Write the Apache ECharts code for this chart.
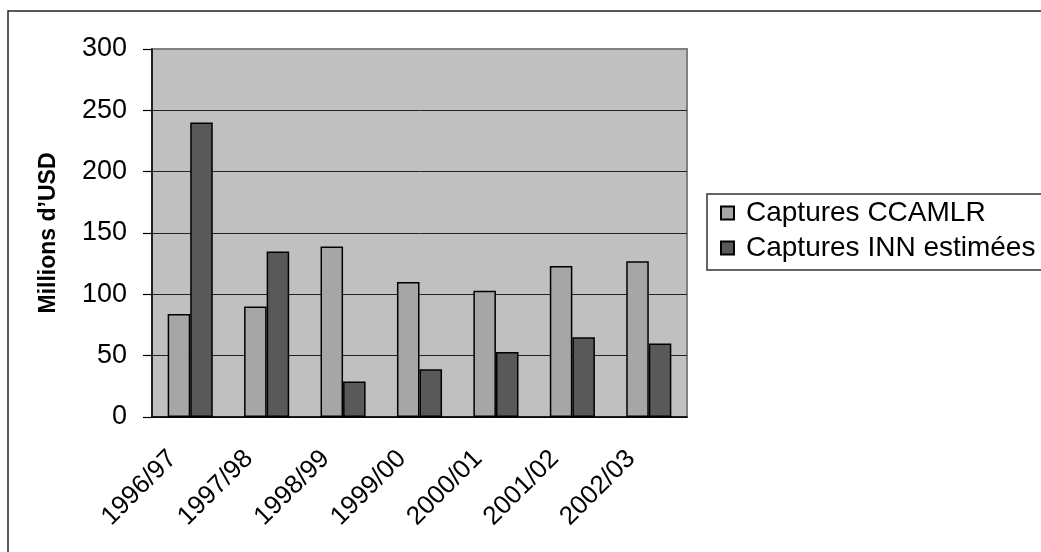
<!DOCTYPE html>
<html lang="fr">

<head>
  <meta charset="UTF-8">
  <title>Captures CCAMLR / INN</title>
  <script src="https://cdn.jsdelivr.net/npm/echarts@6/dist/echarts.min.js"></script>
  <style>
    html, body { margin: 0; padding: 0; background: #fff; }
    #echarts { width: 1041px; height: 552px; }
  </style>
</head>

<body>
  <div id="echarts"></div>
</body>

</html>
<script>
  // saisons
  const seasons = ['1996/97', '1997/98', '1998/99', '1999/00', '2000/01', '2001/02', '2002/03'];
  // valeurs en millions d'USD
  const ccamlr = [84, 90, 139, 110, 103, 123, 127];
  const inn = [240, 135, 29, 39, 53, 65, 60];
  const yTicks = { min: 0, max: 300, interval: 50 };

  const font = 'Liberation Sans, Arial, sans-serif';
  let chart = echarts.init(document.getElementById('echarts'));

  chart.setOption({
    backgroundColor: '#fff',
    textStyle: { fontFamily: font, color: '#000' },
    graphic: [{
      type: 'rect',
      shape: { x: 8, y: 11, width: 1100, height: 600 },
      style: { fill: 'none', stroke: '#222', lineWidth: 1.5 },
      silent: true
    }],
    grid: {
      left: 152, top: 49, right: 354, bottom: 135,
      show: true,
      backgroundColor: '#c0c0c0',
      borderColor: '#808080',
      borderWidth: 2
    },
    legend: {
      left: 707, top: 194,
      orient: 'vertical',
      icon: 'rect',
      itemWidth: 13, itemHeight: 13,
      itemGap: 7,
      padding: [5, 60, 8, 13],
      borderColor: '#333', borderWidth: 1.5,
      textStyle: { fontFamily: font, fontSize: 28, lineHeight: 28, color: '#000', padding: [0, 0, 0, 7] },
      data: ['Captures CCAMLR', 'Captures INN estimées']
    },
    xAxis: {
      type: 'category',
      data: seasons,
      axisLine: { lineStyle: { color: '#000', width: 1.5 } },
      axisTick: { length: 8, lineStyle: { color: '#000', width: 1.2 } },
      axisLabel: { rotate: 45, margin: 20, fontSize: 26, color: '#000', padding: [0, 25, 0, 0], fontFamily: font }
    },
    yAxis: {
      type: 'value',
      min: yTicks.min, max: yTicks.max, interval: yTicks.interval,
      name: 'Millions d’USD',
      nameLocation: 'middle',
      nameGap: 92,
      nameTextStyle: { fontFamily: font, fontSize: 23, fontWeight: 'bold', color: '#000' },
      axisLine: { show: true, lineStyle: { color: '#000', width: 1.5 } },
      axisTick: { show: true, length: 9, lineStyle: { color: '#000', width: 1.2 } },
      axisLabel: { margin: 25, fontSize: 27, color: '#000', fontFamily: font },
      splitLine: { lineStyle: { color: ['#222', '#222', '#222', '#222', '#222', '#222', '#808080'], width: 1 } }
    },
    series: [{
      name: 'Captures CCAMLR',
      type: 'bar',
      data: ccamlr,
      barGap: '0%',
      barCategoryGap: '41%',
      itemStyle: { color: '#a6a6a6', borderColor: '#000', borderWidth: 1.5 }
    }, {
      name: 'Captures INN estimées',
      type: 'bar',
      data: inn,
      itemStyle: { color: '#595959', borderColor: '#000', borderWidth: 1.5 }
    }]
  });
</script>
